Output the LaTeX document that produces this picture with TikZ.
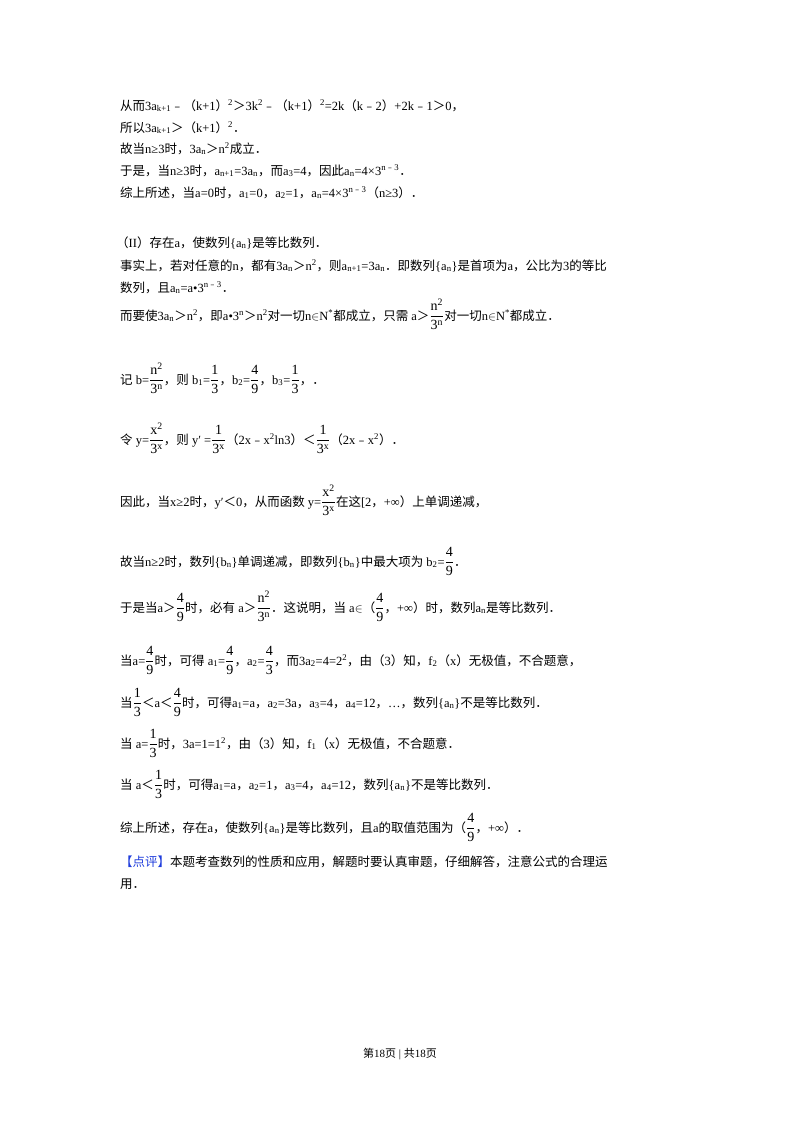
\documentclass[tikz,border=0pt]{standalone}
\usepackage{fontspec}
\setmainfont{Liberation Serif}
\newfontfamily\cjk{Noto Sans CJK SC}
\newfontfamily\latf{Liberation Serif}
\XeTeXinterchartokenstate=1
\newXeTeXintercharclass\cjkclass
\makeatletter
\count@="3000 \loop\ifnum\count@<"3040 \XeTeXcharclass\count@=\cjkclass \advance\count@ 1 \repeat
\count@="4E00 \loop\ifnum\count@<"A000 \XeTeXcharclass\count@=\cjkclass \advance\count@ 1 \repeat
\count@="FE30 \loop\ifnum\count@<"FE70 \XeTeXcharclass\count@=\cjkclass \advance\count@ 1 \repeat
\count@="FF00 \loop\ifnum\count@<"FFF0 \XeTeXcharclass\count@=\cjkclass \advance\count@ 1 \repeat
\makeatother
\XeTeXinterchartoks 0 \cjkclass = {\cjk}
\XeTeXinterchartoks 4095 \cjkclass = {\cjk}
\XeTeXinterchartoks \cjkclass 0 = {\latf}
\XeTeXinterchartoks \cjkclass 4095 = {\latf}
\XeTeXinterchartoks 4095 0 = {\latf}
\newcommand\sbx[1]{\textsubscript{#1}}
\newcommand\spx[1]{\textsuperscript{#1}}
\newcommand\fr[2]{{\fontsize{14}{16}\selectfont$\dfrac{\mathrm{#1}}{\mathrm{#2}}$}}
\usepackage{amsmath}
\definecolor{bl}{RGB}{30,60,220}
\begin{document}
\begin{tikzpicture}[x=1pt,y=-1pt,txt/.style={anchor=base west,inner sep=0pt,font=\fontsize{12.5}{14}\selectfont}]
\useasboundingbox (0,0) rectangle (800,1132);
\fill[white] (0,0) rectangle (800,1132);
\node[txt] (l1) at (120,110) {从而3a\sbx{k+1}﹣（k+1）\spx{2}＞3k\spx{2}﹣（k+1）\spx{2}=2k（k﹣2）+2k﹣1＞0，};
\node[txt] (l2) at (120,132) {所以3a\sbx{k+1}＞（k+1）\spx{2}．};
\node[txt] (l3) at (120,153) {故当n≥3时，3a\sbx{n}＞n\spx{2}成立．};
\node[txt] (l4) at (120,175) {于是，当n≥3时，a\sbx{n+1}=3a\sbx{n}，而a\sbx{3}=4，因此a\sbx{n}=4×3\spx{n﹣3}．};
\node[txt] (l5) at (120,197) {综上所述，当a=0时，a\sbx{1}=0，a\sbx{2}=1，a\sbx{n}=4×3\spx{n﹣3}（n≥3）．};
\node[txt] (l6) at (116,247) {（II）存在a，使数列\{a\sbx{n}\}是等比数列．};
\node[txt] (l7) at (120,270) {事实上，若对任意的n，都有3a\sbx{n}＞n\spx{2}，则a\sbx{n+1}=3a\sbx{n}．即数列\{a\sbx{n}\}是首项为a，公比为3的等比};
\node[txt] (l8) at (120,292) {数列，且a\sbx{n}=a•3\spx{n﹣3}．};
\node[txt] (l9) at (120,320) {而要使3a\sbx{n}＞n\spx{2}，即a•3\spx{n}＞n\spx{2}对一切n$\in$N\spx{*}都成立，只需 a＞\fr{n^2}{3^n}对一切n$\in$N\spx{*}都成立．};
\node[txt] (l10) at (120,384) {记 b=\fr{n^2}{3^n}，则 b\sbx{1}=\fr{1}{3}，b\sbx{2}=\fr{4}{9}，b\sbx{3}=\fr{1}{3}，．};
\node[txt] (l11) at (120,444) {令 y=\fr{x^2}{3^x}，则 y′ =\fr{1}{3^x}（2x﹣x\spx{2}ln3）＜\fr{1}{3^x}（2x﹣x\spx{2}）．};
\node[txt] (l12) at (120,506) {因此，当x≥2时，y′＜0，从而函数 y=\fr{x^2}{3^x}在这[2，+∞）上单调递减，};
\node[txt] (l13) at (120,566) {故当n≥2时，数列\{b\sbx{n}\}单调递减，即数列\{b\sbx{n}\}中最大项为 b\sbx{2}=\fr{4}{9}．};
\node[txt] (l14) at (120,612) {于是当a＞\fr{4}{9}时，必有 a＞\fr{n^2}{3^n}．这说明，当 a$\in$（\fr{4}{9}，+∞）时，数列a\sbx{n}是等比数列．};
\node[txt] (l15) at (120,665) {当a=\fr{4}{9}时，可得 a\sbx{1}=\fr{4}{9}，a\sbx{2}=\fr{4}{3}，而3a\sbx{2}=4=2\spx{2}，由（3）知，f\sbx{2}（x）无极值，不合题意，};
\node[txt] (l16) at (120,707) {当\fr{1}{3}＜a＜\fr{4}{9}时，可得a\sbx{1}=a，a\sbx{2}=3a，a\sbx{3}=4，a\sbx{4}=12，…，数列\{a\sbx{n}\}不是等比数列．};
\node[txt] (l17) at (120,748) {当 a=\fr{1}{3}时，3a=1=1\spx{2}，由（3）知，f\sbx{1}（x）无极值，不合题意．};
\node[txt] (l18) at (120,789) {当 a＜\fr{1}{3}时，可得a\sbx{1}=a，a\sbx{2}=1，a\sbx{3}=4，a\sbx{4}=12，数列\{a\sbx{n}\}不是等比数列．};
\node[txt] (l19) at (120,832) {综上所述，存在a，使数列\{a\sbx{n}\}是等比数列，且a的取值范围为（\fr{4}{9}，+∞）．};
\node[txt] (l20) at (120,866) {{\color{bl}【点评】}本题考查数列的性质和应用，解题时要认真审题，仔细解答，注意公式的合理运};
\node[txt] (l21) at (120,888) {用．};
\node[anchor=base,inner sep=0pt,font=\fontsize{11}{13}\selectfont] (ft) at (400,1057) {第18页 | 共18页};
\end{tikzpicture}
\end{document}
